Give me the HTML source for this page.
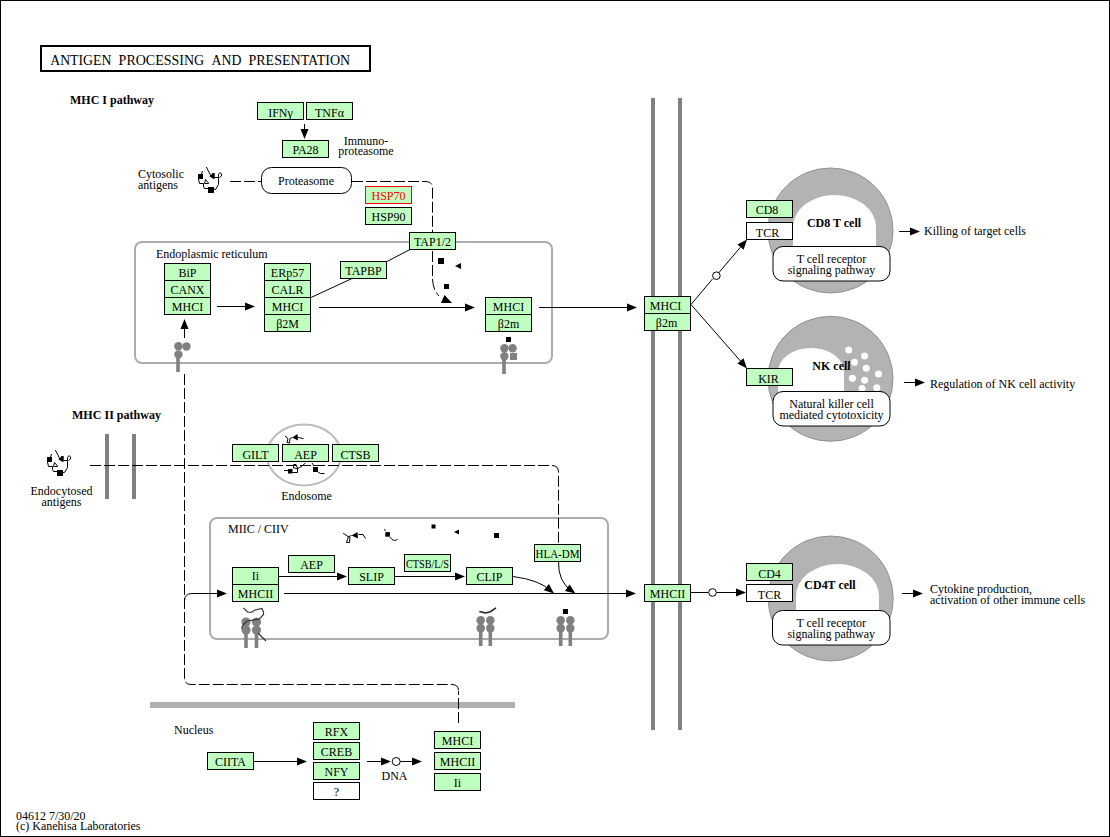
<!DOCTYPE html>
<html><head><meta charset="utf-8"><title>Antigen processing and presentation</title>
<style>
html,body{margin:0;padding:0;background:#fff;}
svg{display:block;font-family:"Liberation Serif", serif;}
</style></head><body>
<svg width="1110" height="837" viewBox="0 0 1110 837">
<rect x="0.5" y="0.5" width="1109" height="836" fill="#fff" stroke="#000"/>
<rect x="41" y="46" width="329" height="25" fill="#fff" stroke="#000" stroke-width="2"/>
<rect x="135" y="242" width="417" height="121" rx="7" fill="none" stroke="#ACACAC" stroke-width="2"/>
<rect x="210" y="518" width="398" height="121" rx="7" fill="none" stroke="#ACACAC" stroke-width="2"/>
<rect x="150" y="702" width="365" height="6" fill="#B0B0B0"/>
<rect x="651" y="98" width="4" height="632" fill="#808080"/>
<rect x="678" y="98" width="4" height="632" fill="#808080"/>
<rect x="105" y="434" width="4" height="65" fill="#808080"/>
<rect x="132" y="434" width="4" height="65" fill="#808080"/>
<ellipse cx="304" cy="455" rx="37" ry="30.5" fill="none" stroke="#BBBBBB" stroke-width="2"/>
<circle cx="830.5" cy="230.5" r="62.5" fill="#B3B3B3" stroke="#909090"/>
<path d="M793,250 L793,227 A41.5,32 0 0 1 876,227 L876,250 Z" fill="#fff"/>
<circle cx="830.5" cy="378.8" r="62.5" fill="#B3B3B3" stroke="#909090"/>
<path d="M778,420 L778,372 A33,24 0 0 1 844,372 L844,420 Z" fill="#fff"/>
<circle cx="830.7" cy="598.5" r="62.5" fill="#B3B3B3" stroke="#909090"/>
<path d="M796,615 L796,596 A41.5,32 0 0 1 879,596 L879,615 Z" fill="#fff"/>
<circle cx="848.7" cy="350.1" r="3.5" fill="#fff"/>
<circle cx="864.6" cy="356" r="3.5" fill="#fff"/>
<circle cx="854.5" cy="362.2" r="3.5" fill="#fff"/>
<circle cx="866.3" cy="368.2" r="3.5" fill="#fff"/>
<circle cx="878.5" cy="374" r="3.5" fill="#fff"/>
<circle cx="852.4" cy="378.2" r="3.5" fill="#fff"/>
<circle cx="864.6" cy="380.2" r="3.5" fill="#fff"/>
<circle cx="862" cy="388.6" r="3.5" fill="#fff"/>
<circle cx="876.8" cy="387.8" r="3.5" fill="#fff"/>
<rect x="773" y="246.5" width="117" height="34.5" rx="10" fill="#fff" stroke="#000"/>
<rect x="773" y="391.5" width="117" height="34.5" rx="10" fill="#fff" stroke="#000"/>
<rect x="772.5" y="610.5" width="117.5" height="34.5" rx="10" fill="#fff" stroke="#000"/>
<rect x="261.5" y="167.5" width="90" height="26" rx="10" fill="#fff" stroke="#000"/>
<rect x="257.5" y="102.5" width="46" height="17" fill="#BFFFBF" stroke="#000"/>
<rect x="306.5" y="102.5" width="46" height="17" fill="#BFFFBF" stroke="#000"/>
<rect x="282.5" y="140.5" width="46" height="17" fill="#BFFFBF" stroke="#000"/>
<rect x="365.5" y="186.5" width="46" height="17" fill="#BFFFBF" stroke="#FF0000"/>
<rect x="365.5" y="207.5" width="46" height="17" fill="#BFFFBF" stroke="#000"/>
<rect x="409.5" y="232.5" width="46" height="17" fill="#BFFFBF" stroke="#000"/>
<rect x="340.5" y="261.5" width="46" height="17" fill="#BFFFBF" stroke="#000"/>
<rect x="164.5" y="263.5" width="46" height="17" fill="#BFFFBF" stroke="#000"/>
<rect x="164.5" y="280.5" width="46" height="17" fill="#BFFFBF" stroke="#000"/>
<rect x="164.5" y="297.5" width="46" height="17" fill="#BFFFBF" stroke="#000"/>
<rect x="264.5" y="263.5" width="46" height="17" fill="#BFFFBF" stroke="#000"/>
<rect x="264.5" y="280.5" width="46" height="17" fill="#BFFFBF" stroke="#000"/>
<rect x="264.5" y="297.5" width="46" height="17" fill="#BFFFBF" stroke="#000"/>
<rect x="264.5" y="314.5" width="46" height="17" fill="#BFFFBF" stroke="#000"/>
<rect x="485.5" y="297.5" width="46" height="17" fill="#BFFFBF" stroke="#000"/>
<rect x="485.5" y="314.5" width="46" height="17" fill="#BFFFBF" stroke="#000"/>
<rect x="644.5" y="296.5" width="46" height="17" fill="#BFFFBF" stroke="#000"/>
<rect x="644.5" y="313.5" width="46" height="17" fill="#BFFFBF" stroke="#000"/>
<rect x="746.5" y="200.5" width="46" height="17" fill="#BFFFBF" stroke="#000"/>
<rect x="746.5" y="222.5" width="46" height="17" fill="#fff" stroke="#000"/>
<rect x="746.5" y="368.5" width="46" height="17" fill="#BFFFBF" stroke="#000"/>
<rect x="746.5" y="563.5" width="46" height="17" fill="#BFFFBF" stroke="#000"/>
<rect x="746.5" y="584.5" width="46" height="17" fill="#fff" stroke="#000"/>
<rect x="232.5" y="444.5" width="46" height="17" fill="#BFFFBF" stroke="#000"/>
<rect x="282.5" y="444.5" width="46" height="17" fill="#BFFFBF" stroke="#000"/>
<rect x="332.5" y="444.5" width="46" height="17" fill="#BFFFBF" stroke="#000"/>
<rect x="232.5" y="567.5" width="46" height="17" fill="#BFFFBF" stroke="#000"/>
<rect x="232.5" y="584.5" width="46" height="17" fill="#BFFFBF" stroke="#000"/>
<rect x="288.5" y="555.5" width="46" height="17" fill="#BFFFBF" stroke="#000"/>
<rect x="348.5" y="567.5" width="46" height="17" fill="#BFFFBF" stroke="#000"/>
<rect x="404.5" y="554.5" width="46" height="17" fill="#BFFFBF" stroke="#000"/>
<rect x="466.5" y="567.5" width="46" height="17" fill="#BFFFBF" stroke="#000"/>
<rect x="534.5" y="544.5" width="46" height="17" fill="#BFFFBF" stroke="#000"/>
<rect x="644.5" y="584.5" width="46" height="17" fill="#BFFFBF" stroke="#000"/>
<rect x="207.5" y="752.5" width="46" height="17" fill="#BFFFBF" stroke="#000"/>
<rect x="313.5" y="722.5" width="46" height="17" fill="#BFFFBF" stroke="#000"/>
<rect x="313.5" y="742.5" width="46" height="17" fill="#BFFFBF" stroke="#000"/>
<rect x="313.5" y="762.5" width="46" height="17" fill="#BFFFBF" stroke="#000"/>
<rect x="313.5" y="782.5" width="46" height="17" fill="#fff" stroke="#000"/>
<rect x="434.5" y="731.5" width="46" height="17" fill="#BFFFBF" stroke="#000"/>
<rect x="434.5" y="752.5" width="46" height="17" fill="#BFFFBF" stroke="#000"/>
<rect x="434.5" y="773.5" width="46" height="17" fill="#BFFFBF" stroke="#000"/>
<polygon points="304.50,139.00 300.50,129.00 308.50,129.00" fill="#000"/>
<path d="M304.5,124 L304.5,129.0" fill="none" stroke="#000" stroke-width="1"/>
<polygon points="255.00,306.50 245.00,310.50 245.00,302.50" fill="#000"/>
<path d="M217,306.5 L245.0,306.5" fill="none" stroke="#000" stroke-width="1"/>
<polygon points="184.50,319.00 188.50,329.00 180.50,329.00" fill="#000"/>
<path d="M184.5,338 L184.5,329.0" fill="none" stroke="#000" stroke-width="1"/>
<polygon points="475.00,307.50 465.00,311.50 465.00,303.50" fill="#000"/>
<path d="M319,307.5 L465.0,307.5" fill="none" stroke="#000" stroke-width="1"/>
<polygon points="637.00,307.50 627.00,311.50 627.00,303.50" fill="#000"/>
<path d="M539,307.5 L627.0,307.5" fill="none" stroke="#000" stroke-width="1"/>
<path d="M311,297.5 L352,278.5" fill="none" stroke="#000" stroke-width="1"/>
<path d="M387,261.5 L410,249.5" fill="none" stroke="#000" stroke-width="1"/>
<path d="M230,181.5 L261.5,181.5" fill="none" stroke="#000" stroke-width="1" stroke-dasharray="11 3"/>
<path d="M352,181.5 L426,181.5 Q432.5,181.5 432.5,188 L432.5,233" fill="none" stroke="#000" stroke-width="1" stroke-dasharray="11 3"/>
<path d="M432.5,251 L432.5,279 Q433,290 439,296" fill="none" stroke="#000" stroke-width="1" stroke-dasharray="11 3"/>
<rect x="438" y="258" width="6" height="6" fill="#000"/>
<rect x="444" y="284" width="5" height="5" fill="#000"/>
<polygon points="455,266 461,263 461,269" fill="#000"/>
<polygon points="444.5,295 441,303 452,303" fill="#000"/>
<path d="M691,304.5 L712.5,279" fill="none" stroke="#000" stroke-width="1"/>
<circle cx="716.4" cy="275.7" r="3.8" fill="#fff" stroke="#000"/>
<polygon points="747.00,239.50 743.58,249.71 737.48,244.54" fill="#000"/>
<path d="M719,272.5 L740.5302255180491,247.12509135372792" fill="none" stroke="#000" stroke-width="1"/>
<polygon points="747.00,368.50 737.40,363.61 743.43,358.34" fill="#000"/>
<path d="M691,304.5 L740.4149539213148,360.9742330529312" fill="none" stroke="#000" stroke-width="1"/>
<polygon points="920.00,231.50 910.00,235.50 910.00,227.50" fill="#000"/>
<path d="M899,231.5 L910.0,231.5" fill="none" stroke="#000" stroke-width="1"/>
<polygon points="925.00,382.50 915.00,386.50 915.00,378.50" fill="#000"/>
<path d="M904,382.5 L915.0,382.5" fill="none" stroke="#000" stroke-width="1"/>
<polygon points="923.00,593.50 913.00,597.50 913.00,589.50" fill="#000"/>
<path d="M902,593.5 L913.0,593.5" fill="none" stroke="#000" stroke-width="1"/>
<path d="M691,592.5 L708.5,592.5" fill="none" stroke="#000" stroke-width="1"/>
<circle cx="712.5" cy="592.5" r="3.8" fill="#fff" stroke="#000"/>
<polygon points="746.00,592.50 736.00,596.50 736.00,588.50" fill="#000"/>
<path d="M716.5,592.5 L736.0,592.5" fill="none" stroke="#000" stroke-width="1"/>
<path d="M184.5,601 Q184.5,593.5 192,593.5" fill="none" stroke="#000" stroke-width="1"/>
<polygon points="227.00,593.50 217.00,597.50 217.00,589.50" fill="#000"/>
<path d="M192,593.5 L217.0,593.5" fill="none" stroke="#000" stroke-width="1"/>
<polygon points="347.00,576.50 337.00,580.50 337.00,572.50" fill="#000"/>
<path d="M279,576.5 L337.0,576.5" fill="none" stroke="#000" stroke-width="1"/>
<polygon points="465.00,576.50 455.00,580.50 455.00,572.50" fill="#000"/>
<path d="M395,576.5 L455.0,576.5" fill="none" stroke="#000" stroke-width="1"/>
<polygon points="636.00,593.50 626.00,597.50 626.00,589.50" fill="#000"/>
<path d="M284,593.5 L626.0,593.5" fill="none" stroke="#000" stroke-width="1"/>
<path d="M513,576.5 Q540,580 551,591" fill="none" stroke="#000" stroke-width="1"/>
<polygon points="554.00,593.50 543.77,590.14 548.91,584.01" fill="#000"/>
<path d="M558.5,561.5 Q558,582 572,591" fill="none" stroke="#000" stroke-width="1"/>
<polygon points="575.50,593.50 565.01,591.04 569.60,584.49" fill="#000"/>
<path d="M90,465.5 L552,465.5 Q558.5,465.5 558.5,472 L558.5,544" fill="none" stroke="#000" stroke-width="1" stroke-dasharray="11 3"/>
<path d="M184.5,374 L184.5,678 Q184.5,684.5 191,684.5 L452,684.5 Q458.5,684.5 458.5,691" fill="none" stroke="#000" stroke-width="1" stroke-dasharray="11 3"/>
<path d="M458.5,691 L458.5,723" stroke="#000" fill="none" stroke-dasharray="11 3" stroke-dashoffset="7"/>
<polygon points="307.00,761.50 297.00,765.50 297.00,757.50" fill="#000"/>
<path d="M254,761.5 L297.0,761.5" fill="none" stroke="#000" stroke-width="1"/>
<polygon points="391.00,761.50 381.00,765.50 381.00,757.50" fill="#000"/>
<path d="M367,761.5 L381.0,761.5" fill="none" stroke="#000" stroke-width="1"/>
<circle cx="396.2" cy="761.5" r="4" fill="#fff" stroke="#000"/>
<polygon points="422.00,761.50 412.00,765.50 412.00,757.50" fill="#000"/>
<path d="M400.5,761.5 L412.0,761.5" fill="none" stroke="#000" stroke-width="1"/>
<circle cx="178.4" cy="346.3" r="4.2" fill="#808080"/>
<circle cx="186.5" cy="346.5" r="4.2" fill="#808080"/>
<circle cx="178.4" cy="354.4" r="4.2" fill="#808080"/>
<rect x="176.2" y="356" width="3.6" height="16" fill="#808080"/>
<rect x="506" y="337" width="5" height="5" fill="#000"/>
<circle cx="504.4" cy="348.2" r="4.2" fill="#808080"/>
<circle cx="512.6" cy="348.2" r="4.2" fill="#808080"/>
<circle cx="504.4" cy="356.2" r="4.2" fill="#808080"/>
<rect x="510" y="353" width="7" height="7" fill="#808080"/>
<rect x="502.2" y="358" width="3.6" height="16" fill="#808080"/>
<circle cx="246" cy="622" r="4.6" fill="#808080"/>
<circle cx="246" cy="630" r="4.6" fill="#808080"/>
<rect x="244.2" y="632" width="3.6" height="16" fill="#808080"/>
<circle cx="256.5" cy="622" r="4.6" fill="#808080"/>
<circle cx="256.5" cy="630" r="4.6" fill="#808080"/>
<rect x="254.7" y="632" width="3.6" height="16" fill="#808080"/>
<path d="M243.4,607.8 L247.5,612 L251,612.5 L255,610 L262,608.5 L263.5,612 L263.5,614.5 L259.5,619 L247,621 L243,625 L241.5,628.5" fill="none" stroke="#333" stroke-width="1.2"/>
<path d="M258,633 L266,641" fill="none" stroke="#333" stroke-width="1.2"/>
<circle cx="480.7" cy="620.3" r="4.3" fill="#808080"/>
<circle cx="480.7" cy="628.1" r="4.3" fill="#808080"/>
<rect x="478.9" y="630" width="3.6" height="16" fill="#808080"/>
<circle cx="490.3" cy="620.3" r="4.3" fill="#808080"/>
<circle cx="490.3" cy="628.1" r="4.3" fill="#808080"/>
<rect x="488.5" y="630" width="3.6" height="16" fill="#808080"/>
<path d="M479.3,611.4 L485.5,612.9 L490.3,611.7 L496,607.8" fill="none" stroke="#222" stroke-width="1.5"/>
<rect x="563" y="609" width="5" height="5" fill="#000"/>
<circle cx="560.7" cy="620.3" r="4.3" fill="#808080"/>
<circle cx="560.7" cy="628.1" r="4.3" fill="#808080"/>
<rect x="558.9000000000001" y="630" width="3.6" height="16" fill="#808080"/>
<circle cx="570.3" cy="620.3" r="4.3" fill="#808080"/>
<circle cx="570.3" cy="628.1" r="4.3" fill="#808080"/>
<rect x="568.5" y="630" width="3.6" height="16" fill="#808080"/>
<g transform="translate(192,162) scale(1.0)" fill="none" stroke="#000" stroke-width="1"><rect x="6" y="12" width="5" height="5" fill="#000" stroke="none"/><path d="M10.5,9 L9.5,12"/><path d="M6.5,17 L7.5,21.5 L11.5,21.5 L11.5,24.5 L12.5,26.5 L16.5,26.5"/><path d="M12.5,21.5 L13.5,17.5 L16.5,21 L16.5,21.5 Z" fill="#fff"/><rect x="16" y="25" width="6" height="6" fill="#000" stroke="none"/><path d="M22,27.5 L23.5,27.5 L26.5,22.5 L26.5,15.5"/><path d="M26.5,15.5 L26.5,12.5 L28,10.5 L29.5,12 L29.5,14 L27.5,15.5"/><path d="M26.5,15.5 L22.5,15.5"/><path d="M17.2,14.3 L19,13.3 L20.5,11 L22.7,11 L22.7,16.7 L21,16.7 L19,15.3 Z" fill="#000" stroke="none"/><path d="M14.3,5 L19,14"/></g>
<g transform="translate(41,445) scale(1.0)" fill="none" stroke="#000" stroke-width="1"><rect x="6" y="12" width="5" height="5" fill="#000" stroke="none"/><path d="M10.5,9 L9.5,12"/><path d="M6.5,17 L7.5,21.5 L11.5,21.5 L11.5,24.5 L12.5,26.5 L16.5,26.5"/><path d="M12.5,21.5 L13.5,17.5 L16.5,21 L16.5,21.5 Z" fill="#fff"/><rect x="16" y="25" width="6" height="6" fill="#000" stroke="none"/><path d="M22,27.5 L23.5,27.5 L26.5,22.5 L26.5,15.5"/><path d="M26.5,15.5 L26.5,12.5 L28,10.5 L29.5,12 L29.5,14 L27.5,15.5"/><path d="M26.5,15.5 L22.5,15.5"/><path d="M17.2,14.3 L19,13.3 L20.5,11 L22.7,11 L22.7,16.7 L21,16.7 L19,15.3 Z" fill="#000" stroke="none"/><path d="M14.3,5 L19,14"/></g>
<path d="M285,436 L288,438.5 L287,442.5 L289.5,443 L290,438.5 L292,437.5" fill="none" stroke="#000" stroke-width="1"/>
<polygon points="292,437.5 297.5,434 298,440.5" fill="#000"/>
<path d="M298,437.5 L303.5,438.5" fill="none" stroke="#000" stroke-width="1"/>
<path d="M284,470.5 L288,470.5" fill="none" stroke="#000" stroke-width="1"/>
<rect x="288" y="469" width="4.5" height="4.5" fill="#000"/>
<path d="M292.5,472.5 L297.5,472.5 L297.5,468 L296,464.5 L293.5,464.5 L293.5,468 L298,468.5 L302,466 L305.5,463" fill="none" stroke="#000" stroke-width="1"/>
<path d="M312,463 L314,466" fill="none" stroke="#000" stroke-width="1"/>
<rect x="313" y="467" width="5" height="5" fill="#000"/>
<path d="M318,472 L320.5,473.5 L324.5,473.5" fill="none" stroke="#000" stroke-width="1"/>
<path d="M343.2,533.2 L348.4,536.7 L346.5,542.5 L349.5,542.5 L350,537.5 L348.4,536.7 L351.5,535.5" fill="none" stroke="#000" stroke-width="1"/>
<polygon points="351.5,535.5 357.5,532 358,538.5" fill="#000"/>
<path d="M358.5,534.5 L363,534.5 L365.5,538.5" fill="none" stroke="#000" stroke-width="1"/>
<path d="M384.4,529.2 L385.5,531" fill="none" stroke="#000" stroke-width="1"/>
<rect x="385.3" y="532.1" width="4.6" height="4.6" fill="#000"/>
<path d="M389.9,537 L392,539.5 L394.5,540.5 L396.5,540 L397.5,539" fill="none" stroke="#000" stroke-width="1"/>
<rect x="431.5" y="524.5" width="4" height="4" fill="#000"/>
<rect x="494" y="533" width="5" height="5" fill="#000"/>
<polygon points="454,532 459,529.5 459,534.5" fill="#000"/><g><text transform="translate(50.2,65) scale(1,1.0)" font-size="15" text-anchor="start" textLength="61.2" lengthAdjust="spacingAndGlyphs" fill="#000">ANTIGEN</text>
<text transform="translate(118.6,65) scale(1,1.0)" font-size="15" text-anchor="start" textLength="85.6" lengthAdjust="spacingAndGlyphs" fill="#000">PROCESSING</text>
<text transform="translate(211.6,65) scale(1,1.0)" font-size="15" text-anchor="start" textLength="29.8" lengthAdjust="spacingAndGlyphs" fill="#000">AND</text>
<text transform="translate(248.4,65) scale(1,1.0)" font-size="15" text-anchor="start" textLength="101.8" lengthAdjust="spacingAndGlyphs" fill="#000">PRESENTATION</text>
<text transform="translate(70,104) scale(1,1.08)" font-size="12" text-anchor="start" font-weight="bold" textLength="84" lengthAdjust="spacingAndGlyphs" fill="#000">MHC I pathway</text>
<text transform="translate(72,418.5) scale(1,1.08)" font-size="12" text-anchor="start" font-weight="bold" textLength="89" lengthAdjust="spacingAndGlyphs" fill="#000">MHC II pathway</text>
<text transform="translate(831.5,263) scale(1,1.03)" font-size="12" text-anchor="middle" fill="#000">T cell receptor</text>
<text transform="translate(831.5,274) scale(1,1.03)" font-size="12" text-anchor="middle" fill="#000">signaling pathway</text>
<text transform="translate(831.5,407.6) scale(1,1.03)" font-size="12" text-anchor="middle" fill="#000">Natural killer cell</text>
<text transform="translate(831.5,418.6) scale(1,1.03)" font-size="12" text-anchor="middle" fill="#000">mediated cytotoxicity</text>
<text transform="translate(831.25,626.8) scale(1,1.03)" font-size="12" text-anchor="middle" fill="#000">T cell receptor</text>
<text transform="translate(831.25,637.8) scale(1,1.03)" font-size="12" text-anchor="middle" fill="#000">signaling pathway</text>
<text transform="translate(834,227) scale(1,1.08)" font-size="12" text-anchor="middle" font-weight="bold" fill="#000">CD8 T cell</text>
<text transform="translate(831.5,369.5) scale(1,1.08)" font-size="12" text-anchor="middle" font-weight="bold" fill="#000">NK cell</text>
<text transform="translate(830,588.5) scale(1,1.08)" font-size="12" text-anchor="middle" font-weight="bold" fill="#000">CD4T cell</text>
<text transform="translate(306,184.8) scale(1,1.03)" font-size="12" text-anchor="middle" fill="#000">Proteasome</text>
<text transform="translate(280.5,117) scale(1,1.08)" text-anchor="middle" font-size="12" fill="#000">IFN&#947;</text>
<text transform="translate(329.5,117) scale(1,1.08)" text-anchor="middle" font-size="12" fill="#000">TNF&#945;</text>
<text transform="translate(305.5,154) scale(1,1.08)" text-anchor="middle" font-size="12" fill="#000">PA28</text>
<text transform="translate(388.5,200) scale(1,1.08)" text-anchor="middle" font-size="12" fill="#FF0000">HSP70</text>
<text transform="translate(388.5,221) scale(1,1.08)" text-anchor="middle" font-size="12" fill="#000">HSP90</text>
<text transform="translate(432.5,246) scale(1,1.08)" text-anchor="middle" font-size="12" fill="#000">TAP1/2</text>
<text transform="translate(363.5,275) scale(1,1.08)" text-anchor="middle" font-size="12" fill="#000">TAPBP</text>
<text transform="translate(187.5,277) scale(1,1.08)" text-anchor="middle" font-size="12" fill="#000">BiP</text>
<text transform="translate(187.5,294) scale(1,1.08)" text-anchor="middle" font-size="12" fill="#000">CANX</text>
<text transform="translate(187.5,311) scale(1,1.08)" text-anchor="middle" font-size="12" fill="#000">MHCI</text>
<text transform="translate(287.5,277) scale(1,1.08)" text-anchor="middle" font-size="12" fill="#000">ERp57</text>
<text transform="translate(287.5,294) scale(1,1.08)" text-anchor="middle" font-size="12" fill="#000">CALR</text>
<text transform="translate(287.5,311) scale(1,1.08)" text-anchor="middle" font-size="12" fill="#000">MHCI</text>
<text transform="translate(287.5,328) scale(1,1.08)" text-anchor="middle" font-size="12" fill="#000">&#946;2M</text>
<text transform="translate(508.5,311) scale(1,1.08)" text-anchor="middle" font-size="12" fill="#000">MHCI</text>
<text transform="translate(508.5,328) scale(1,1.08)" text-anchor="middle" font-size="12" fill="#000">&#946;2m</text>
<text transform="translate(665.5,310) scale(1,1.08)" text-anchor="middle" font-size="12" fill="#000">MHCI</text>
<text transform="translate(666.5,327) scale(1,1.08)" text-anchor="middle" font-size="12" fill="#000">&#946;2m</text>
<text transform="translate(767.0,214) scale(1,1.08)" text-anchor="middle" font-size="12" fill="#000">CD8</text>
<text transform="translate(767.5,237) scale(1,1.08)" text-anchor="middle" font-size="12" fill="#000">TCR</text>
<text transform="translate(768.5,383) scale(1,1.08)" text-anchor="middle" font-size="12" fill="#000">KIR</text>
<text transform="translate(769.5,578) scale(1,1.08)" text-anchor="middle" font-size="12" fill="#000">CD4</text>
<text transform="translate(769.5,599) scale(1,1.08)" text-anchor="middle" font-size="12" fill="#000">TCR</text>
<text transform="translate(255.5,459) scale(1,1.08)" text-anchor="middle" font-size="12" fill="#000">GILT</text>
<text transform="translate(305.5,459) scale(1,1.08)" text-anchor="middle" font-size="12" fill="#000">AEP</text>
<text transform="translate(355.5,459) scale(1,1.08)" text-anchor="middle" font-size="12" fill="#000">CTSB</text>
<text transform="translate(255.5,580) scale(1,1.08)" text-anchor="middle" font-size="12" fill="#000">Ii</text>
<text transform="translate(255.5,598) scale(1,1.08)" text-anchor="middle" font-size="12" fill="#000">MHCII</text>
<text transform="translate(311.5,569) scale(1,1.08)" text-anchor="middle" font-size="12" fill="#000">AEP</text>
<text transform="translate(371.5,581) scale(1,1.08)" text-anchor="middle" font-size="12" fill="#000">SLIP</text>
<text transform="translate(427.5,568) scale(1,1.08)" text-anchor="middle" font-size="12" fill="#000" textLength="43" lengthAdjust="spacingAndGlyphs">CTSB/L/S</text>
<text transform="translate(489.5,581) scale(1,1.08)" text-anchor="middle" font-size="12" fill="#000">CLIP</text>
<text transform="translate(557.5,558) scale(1,1.08)" text-anchor="middle" font-size="12" fill="#000" textLength="44" lengthAdjust="spacingAndGlyphs">HLA-DM</text>
<text transform="translate(667.5,598) scale(1,1.08)" text-anchor="middle" font-size="12" fill="#000">MHCII</text>
<text transform="translate(230.5,766) scale(1,1.08)" text-anchor="middle" font-size="12" fill="#000">CIITA</text>
<text transform="translate(336.5,736) scale(1,1.08)" text-anchor="middle" font-size="12" fill="#000">RFX</text>
<text transform="translate(336.5,756) scale(1,1.08)" text-anchor="middle" font-size="12" fill="#000">CREB</text>
<text transform="translate(336.5,776) scale(1,1.08)" text-anchor="middle" font-size="12" fill="#000">NFY</text>
<text transform="translate(336.5,796) scale(1,1.08)" text-anchor="middle" font-size="12" fill="#000">?</text>
<text transform="translate(457.5,745) scale(1,1.08)" text-anchor="middle" font-size="12" fill="#000">MHCI</text>
<text transform="translate(457.5,766) scale(1,1.08)" text-anchor="middle" font-size="12" fill="#000">MHCII</text>
<text transform="translate(457.5,787) scale(1,1.08)" text-anchor="middle" font-size="12" fill="#000">Ii</text>
<text transform="translate(366,144.5) scale(1,1.03)" font-size="12" text-anchor="middle" fill="#000">Immuno-</text>
<text transform="translate(366,155) scale(1,1.03)" font-size="12" text-anchor="middle" fill="#000">proteasome</text>
<text transform="translate(138,177.5) scale(1,1.03)" font-size="12" text-anchor="start" fill="#000">Cytosolic</text>
<text transform="translate(138,188.5) scale(1,1.03)" font-size="12" text-anchor="start" fill="#000">antigens</text>
<text transform="translate(156,258) scale(1,1.03)" font-size="12" text-anchor="start" fill="#000">Endoplasmic reticulum</text>
<text transform="translate(61.5,494.5) scale(1,1.03)" font-size="12" text-anchor="middle" fill="#000">Endocytosed</text>
<text transform="translate(61.5,505.5) scale(1,1.03)" font-size="12" text-anchor="middle" fill="#000">antigens</text>
<text transform="translate(306.5,499.5) scale(1,1.03)" font-size="12" text-anchor="middle" fill="#000">Endosome</text>
<text transform="translate(228,533) scale(1,1.03)" font-size="12" text-anchor="start" fill="#000">MIIC / CIIV</text>
<text transform="translate(174,734) scale(1,1.03)" font-size="12" text-anchor="start" fill="#000">Nucleus</text>
<text transform="translate(394.5,780) scale(1,1.03)" font-size="12" text-anchor="middle" fill="#000">DNA</text>
<text transform="translate(924,235) scale(1,1.03)" font-size="12" text-anchor="start" fill="#000">Killing of target cells</text>
<text transform="translate(930,387.5) scale(1,1.03)" font-size="12" text-anchor="start" fill="#000">Regulation of NK cell activity</text>
<text transform="translate(930,593) scale(1,1.03)" font-size="12" text-anchor="start" fill="#000">Cytokine production,</text>
<text transform="translate(930,603.5) scale(1,1.03)" font-size="12" text-anchor="start" fill="#000">activation of other immune cells</text>
<text transform="translate(16,819.5) scale(1,1.03)" font-size="12" text-anchor="start" fill="#000">04612 7/30/20</text>
<text transform="translate(16,830) scale(1,1.03)" font-size="12" text-anchor="start" fill="#000">(c) Kanehisa Laboratories</text></g>
</svg>
</body></html>
